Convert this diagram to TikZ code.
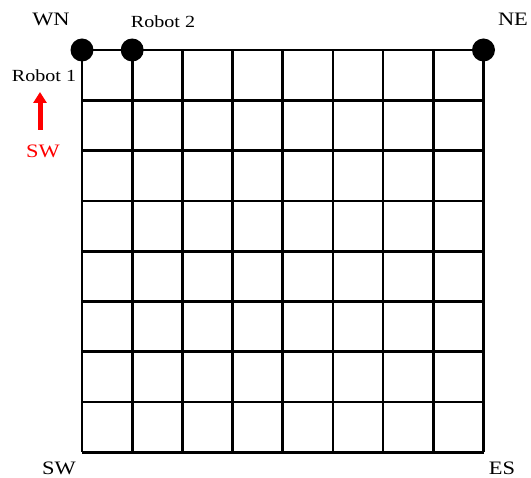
\documentclass[tikz,border=0pt]{standalone}
\usepackage{fontspec}
\usepackage{graphicx}
\setmainfont{Liberation Serif}
\usetikzlibrary{arrows.meta}
\newcommand\hstretch[1]{\scalebox{1.18}[1]{#1}}
\begin{document}
\begin{tikzpicture}[x=1pt,y=-1pt,
  gridline/.style={line width=2.7pt,black},
  dot/.style={circle,fill=black,inner sep=0pt,minimum size=23pt},
  corner/.style={font=\fontsize{19}{19}\selectfont,inner sep=0pt},
  robot/.style={font=\fontsize{17}{17}\selectfont,inner sep=0pt},
  redlbl/.style={font=\fontsize{19}{19}\selectfont,inner sep=0pt,text=red}]
\useasboundingbox (0,0) rectangle (531,478);
% grid
\foreach \i in {0,...,8}{
  \draw[gridline] (82,{50+\i*50.3}) -- (483.5,{50+\i*50.3});
  \draw[gridline] ({82+\i*50.19},50) -- ({82+\i*50.19},452.4);
}
% dots
\node[dot] (d1) at (82,50) {};
\node[dot] (d2) at (132.2,50) {};
\node[dot] (d3) at (483.5,50) {};
% labels
\node[corner] (wn) at (51,19) {\hstretch{WN}};
\node[corner] (ne) at (513,19) {\hstretch{NE}};
\node[corner] (sw) at (59,468) {\hstretch{SW}};
\node[corner] (es) at (502,468) {\hstretch{ES}};
\node[robot] (r2) at (163,21.5) {\hstretch{Robot 2}};
\node[robot] (r1) at (44,75.5) {\hstretch{Robot 1}};
\node[redlbl] (rsw) at (43,151) {\hstretch{SW}};
\coordinate (abot) at (40,130);
\coordinate (atop) at (40,92);
\draw[red,line width=5pt,-{Triangle[width=13pt,length=11pt]}] (abot) -- (atop);
\end{tikzpicture}
\end{document}
